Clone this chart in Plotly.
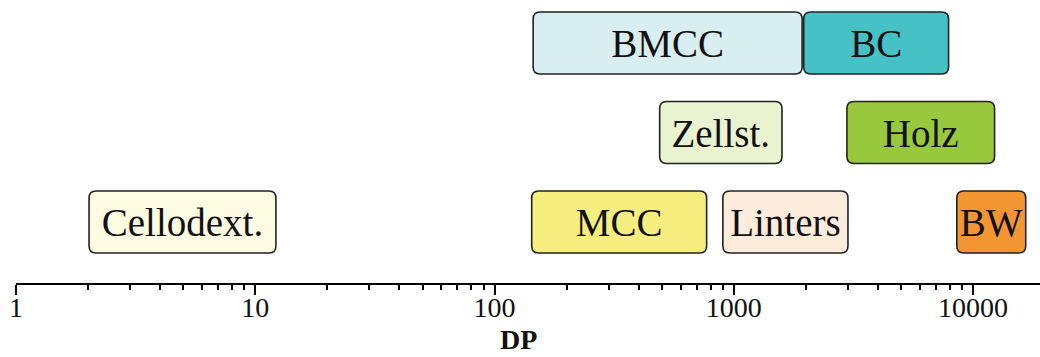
import numpy as np
import plotly.graph_objects as go

# Degree-of-polymerisation ranges of cellulose materials
labels = ["BMCC", "BC", "Zellst.", "Holz", "Cellodext.", "MCC", "Linters", "BW"]
dp_min = [145, 1960, 490, 2970, 2.02, 143, 900, 8550]
dp_max = [1930, 7900, 1590, 12300, 12.2, 770, 3000, 16600]
rows = [3, 3, 2, 2, 1, 1, 1, 1]
colors = ["#D9EEF1", "#46C2C6", "#E9F3D0", "#98C83C",
          "#FDFBE1", "#F6EF7F", "#FDEBDC", "#F39631"]

tick_vals = [1, 10, 100, 1000, 10000]
tick_text = ["1", "10", "100", "1000", "10000"]
x_max = 19000

FONT = "Liberation Serif"
HALF_H = 0.346      # half box height in row units
RX = 0.029          # corner radius in decades
RY = 0.078          # corner radius in row units
TEXT_DROP = 0.05    # optical shift of labels so capitals sit centred


def rounded_box(a, b, yc):
    la, lb = np.log10(a), np.log10(b)
    X = lambda l: 10 ** l
    y0, y1 = yc - HALF_H, yc + HALF_H
    return (f"M {X(la+RX)},{y0} L {X(lb-RX)},{y0} Q {X(lb)},{y0} {X(lb)},{y0+RY} "
            f"L {X(lb)},{y1-RY} Q {X(lb)},{y1} {X(lb-RX)},{y1} "
            f"L {X(la+RX)},{y1} Q {X(la)},{y1} {X(la)},{y1-RY} "
            f"L {X(la)},{y0+RY} Q {X(la)},{y0} {X(la+RX)},{y0} Z")


shapes = []
for a, b, r, c in zip(dp_min, dp_max, rows, colors):
    shapes.append(dict(type="path", xref="x", yref="y", path=rounded_box(a, b, r),
                       fillcolor=c, line=dict(color="#222222", width=1.6), layer="below"))

centers = [float(np.sqrt(a * b)) for a, b in zip(dp_min, dp_max)]

fig = go.Figure()
fig.add_trace(go.Scatter(
    x=centers, y=[r - TEXT_DROP for r in rows], mode="text", text=labels,
    textfont=dict(family=FONT, size=39, color="#111111"),
    textposition="middle center", hoverinfo="skip", showlegend=False,
))

minor_vals = [m * 10 ** d for d in range(5) for m in range(2, 10) if m * 10 ** d <= x_max]

fig.update_layout(
    width=1040, height=357,
    margin=dict(l=16, r=0, t=0, b=74),
    paper_bgcolor="white", plot_bgcolor="white",
    shapes=shapes,
    xaxis=dict(
        type="log", range=[0, np.log10(x_max) + 0.001],
        showline=True, linecolor="black", linewidth=2,
        showgrid=False, zeroline=False,
        ticks="outside", ticklen=10, tickwidth=2, tickcolor="black",
        tickvals=tick_vals, ticktext=tick_text,
        tickfont=dict(family=FONT, size=28, color="#111111"),
        ticklabelstandoff=-12,
        minor=dict(ticks="outside", ticklen=5, tickwidth=2, tickcolor="black",
                   tickvals=minor_vals, showgrid=False),
    ),
    yaxis=dict(visible=False, range=[0.318, 3.48], fixedrange=True),
    annotations=[dict(
        text="<b>DP</b>", xref="paper", yref="paper",
        x=(518 - 16) / 1024, y=(283 - 339) / 283,
        xanchor="center", yanchor="middle", showarrow=False,
        font=dict(family=FONT, size=28, color="#111111"),
    )],
)

fig.write_html("out.html")
